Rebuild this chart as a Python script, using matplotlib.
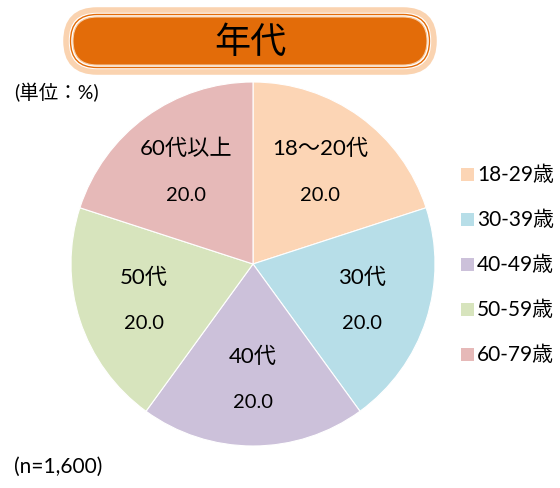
import numpy as np
import matplotlib.pyplot as plt
from matplotlib.patches import FancyBboxPatch

plt.rcParams['font.family'] = ['Lato', 'Noto Sans CJK JP', 'DejaVu Sans']

# data
slice_labels = ['18〜20代', '30代', '40代', '50代', '60代以上']
values = [20.0, 20.0, 20.0, 20.0, 20.0]
legend_labels = ['18-29歳', '30-39歳', '40-49歳', '50-59歳', '60-79歳']
colors = ['#FCD5B5', '#B7DEE8', '#CCC1DA', '#D7E4BD', '#E6B9B8']
title = '年代'

W, H = 560, 489
fig = plt.figure(figsize=(W / 100, H / 100), dpi=100)
ax = fig.add_axes([0, 0, 1, 1])

cx, cy, R = 253, H - 265, 182
wedges, _ = ax.pie(values, colors=colors, startangle=90, counterclock=False,
                   center=(cx, cy), radius=R, frame=True,
                   wedgeprops=dict(edgecolor='white', linewidth=0.8))
ax.set_xlim(0, W)
ax.set_ylim(0, H)
ax.set_aspect('equal')
ax.axis('off')

for w, lab, v in zip(wedges, slice_labels, values):
    mid = np.deg2rad((w.theta1 + w.theta2) / 2)
    tx = cx + 0.63 * R * np.cos(mid)
    ty = cy + 0.63 * R * np.sin(mid)
    ax.text(tx, ty + 23, lab, ha='center', va='center', fontsize=16)
    ax.text(tx, ty - 23, f'{v:.1f}', ha='center', va='center', fontsize=14.5)

# title box
outer = FancyBboxPatch((66, H - 73), 368, 62, boxstyle='round,pad=0,rounding_size=31',
                       facecolor='white', edgecolor='#FAD3B0', linewidth=4)
ax.add_patch(outer)
ring = FancyBboxPatch((70.5, H - 68.5), 359, 53, boxstyle='round,pad=0,rounding_size=26.5',
                      facecolor='white', edgecolor='#E36C09', linewidth=1)
ax.add_patch(ring)
inner = FancyBboxPatch((73, H - 66), 354, 48, boxstyle='round,pad=0,rounding_size=24',
                       facecolor='#E36C09', edgecolor='#F6C9A0', linewidth=0.8)
ax.add_patch(inner)
ax.text(250, H - 42, title, ha='center', va='center', fontsize=26, color='black')

# legend
for i, (lab, c) in enumerate(zip(legend_labels, colors)):
    y = H - (175 + 45 * i)
    ax.add_patch(plt.Rectangle((461, y - 6.5), 13, 13, facecolor=c, edgecolor='none'))
    ax.text(477, y, lab, ha='left', va='center', fontsize=15)

ax.text(14, H - 93, '(単位：%)', ha='left', va='center', fontsize=14)
ax.text(14, H - 467, '(n=1,600)', ha='left', va='center', fontsize=15)

fig.savefig('out.png', dpi=100)
